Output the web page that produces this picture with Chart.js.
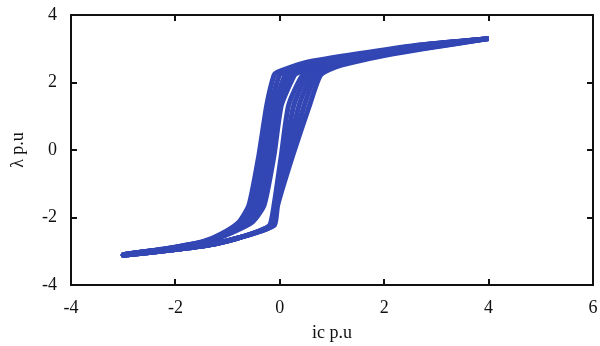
<!DOCTYPE html>
<html>
<head>
<meta charset="utf-8">
<script src="https://cdn.jsdelivr.net/npm/chart.js@4.4.1/dist/chart.umd.min.js"></script>
<style>
  html, body { margin: 0; padding: 0; background: #fff; }
  #wrap { width: 600px; height: 346px; }
</style>
</head>
<body>
<div id="wrap"><canvas id="chart"></canvas></div>
<script>
// flux linkage (p.u) levels along each branch of the loop
var downLambda = [3.3, 3.1, 2.85, 2.6, 2.45, 2.3, 2.22, 1.33, -0.15, -1.63, -2.13, -2.45, -2.7, -2.9, -3.1];
var upLambda = [-3.12, -2.95, -2.81, -2.63, -2.4, -2.22, -1.63, -0.15, 1.33, 2.22, 2.45, 2.6, 2.8, 3.0, 3.3];

// current (p.u) on the falling branch, one list per cycle
var down1 = [4.0, 2.6, 1.5, 0.52, 0.2, -0.05, -0.11, -0.25, -0.40, -0.59, -0.78, -1.08, -1.45, -2.1, -3.0];
var down2 = [4.0, 2.65, 1.6, 0.62, 0.3, 0.07, -0.01, -0.17, -0.32, -0.51, -0.72, -1.04, -1.42, -2.08, -3.0];
var down3 = [4.0, 2.7, 1.7, 0.72, 0.4, 0.18, 0.10, -0.10, -0.25, -0.44, -0.65, -1.0, -1.40, -2.06, -3.0];
var down4 = [4.0, 2.75, 1.8, 0.82, 0.5, 0.28, 0.19, -0.03, -0.18, -0.37, -0.58, -0.96, -1.38, -2.04, -3.0];
var down5 = [4.0, 2.8, 1.9, 0.92, 0.6, 0.36, 0.28, 0.03, -0.11, -0.30, -0.52, -0.92, -1.36, -2.02, -3.0];

// current (p.u) on the rising branch, one list per cycle
var up1 = [-3.0, -2.0, -1.34, -0.85, -0.40, -0.19, -0.11, 0.03, 0.17, 0.44, 0.74, 1.0, 1.6, 2.4, 4.0];
var up2 = [-3.0, -2.0, -1.34, -0.85, -0.39, -0.17, -0.09, 0.09, 0.27, 0.53, 0.82, 1.1, 1.7, 2.5, 4.0];
var up3 = [-3.0, -2.0, -1.34, -0.85, -0.38, -0.15, -0.07, 0.15, 0.37, 0.62, 0.9, 1.2, 1.8, 2.6, 4.0];
var up4 = [-3.0, -2.0, -1.34, -0.85, -0.36, -0.12, -0.06, 0.20, 0.47, 0.70, 0.97, 1.3, 1.9, 2.68, 4.0];
var up5 = [-3.0, -2.0, -1.34, -0.85, -0.35, -0.10, -0.04, 0.25, 0.57, 0.78, 1.05, 1.4, 2.0, 2.75, 4.0];

var downs = [down1, down2, down3, down4, down5];
var ups = [up1, up2, up3, up4, up5];

var blue = 'rgb(50, 70, 180)';
var font = "'Liberation Serif', 'Times New Roman', serif";

var datasets = [];
downs.forEach(function(down, k) {
  var pts = [];
  down.forEach(function(x, i) { pts.push({x: x, y: downLambda[i]}); });
  ups[k].forEach(function(x, i) { pts.push({x: x, y: upLambda[i]}); });
  datasets.push({
    data: pts,
    showLine: true,
    borderColor: blue,
    borderWidth: 5,
    pointRadius: 0,
    tension: 0.2,
    fill: false
  });
});

// box round the plot with short inward ticks on every side
var frame = {
  id: 'frame',
  afterDraw: function(chart) {
    var ctx = chart.ctx;
    var a = chart.chartArea;
    var xs = chart.scales.x;
    var ys = chart.scales.y;
    ctx.save();
    ctx.strokeStyle = '#111';
    ctx.lineWidth = 2;
    ctx.strokeRect(a.left, a.top, a.right - a.left, a.bottom - a.top);
    ctx.beginPath();
    xs.ticks.forEach(function(t) {
      var px = Math.round(xs.getPixelForValue(t.value));
      ctx.moveTo(px, a.bottom); ctx.lineTo(px, a.bottom - 6);
      ctx.moveTo(px, a.top); ctx.lineTo(px, a.top + 6);
    });
    ys.ticks.forEach(function(t) {
      var py = Math.round(ys.getPixelForValue(t.value));
      ctx.moveTo(a.left, py); ctx.lineTo(a.left + 6, py);
      ctx.moveTo(a.right, py); ctx.lineTo(a.right - 6, py);
    });
    ctx.stroke();
    ctx.restore();
  }
};

new Chart(document.getElementById('chart'), {
  type: 'scatter',
  data: {datasets: datasets},
  options: {
    responsive: true,
    maintainAspectRatio: false,
    animation: false,
    layout: {padding: {left: 0, right: 7, top: 15, bottom: 0}},
    plugins: {legend: {display: false}, tooltip: {enabled: false}},
    scales: {
      x: {
        type: 'linear',
        min: -4, max: 6,
        grid: {display: false, drawTicks: false},
        border: {display: false},
        ticks: {stepSize: 2, padding: 12, color: '#111', font: {family: font, size: 18}},
        title: {display: true, text: 'ic p.u', color: '#111', padding: {top: 0, bottom: 2}, font: {family: font, size: 18}},
        afterFit: function(scale) {
          scale.height = 61;
          scale.paddingLeft = 0;
          scale.paddingRight = 0;
        }
      },
      y: {
        type: 'linear',
        min: -4, max: 4,
        grid: {display: false, drawTicks: false},
        border: {display: false},
        ticks: {stepSize: 2, padding: 14, color: '#111', font: {family: font, size: 18}},
        title: {display: true, text: 'λ p.u', color: '#111', padding: {top: 7, bottom: 0}, font: {family: font, size: 18}},
        afterFit: function(scale) {
          scale.width = 71;
          scale.paddingTop = 0;
          scale.paddingBottom = 0;
        }
      }
    }
  },
  plugins: [frame]
});
</script>
</body>
</html>
